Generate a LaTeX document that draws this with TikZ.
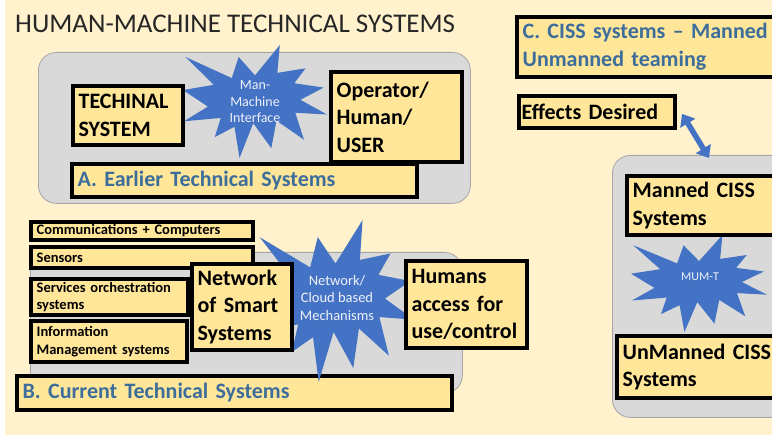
\documentclass[tikz,border=0pt]{standalone}
\usepackage{fontspec}
\setmainfont{Carlito}
\usepackage{tikz}
\usetikzlibrary{arrows.meta,positioning}
\definecolor{bgcream}{HTML}{FFF2CC}
\definecolor{boxgold}{HTML}{FFE699}
\definecolor{panelgray}{HTML}{D9D9D9}
\definecolor{panelline}{HTML}{A6A6A6}
\definecolor{burstblue}{HTML}{4472C4}
\definecolor{bursttext}{HTML}{EEF2FA}
\definecolor{headblue}{HTML}{3C6D9B}

\begin{document}
\begin{tikzpicture}[x=1pt,y=-1pt,
    panel/.style={draw=panelline, line width=0.8pt, fill=panelgray,
                  rounded corners=18pt, anchor=north west, inner sep=0pt},
    sysbox/.style={draw=black, line width=3.8pt, fill=boxgold, anchor=north west,
                   inner xsep=6pt, inner ysep=2pt, align=left},
    bigtxt/.style={font=\fontsize{22}{27.5}\selectfont\bfseries},
    smalltxt/.style={font=\fontsize{14.5}{17.5}\selectfont\bfseries},
    headtxt/.style={bigtxt, text=headblue},
    bursttxt/.style={text=bursttext, align=center, inner sep=0pt}]

  \useasboundingbox (0,0) rectangle (772,435);
  \clip (0,0) rectangle (772,435);

  % ----- background -----
  \fill[white] (0,0) rectangle (772,435);
  \fill[bgcream] (5,0) rectangle (772,435);

  % ----- macro: \burst{x0}{y0}{width}{height} (explosion shape) -----
  \newcommand{\burst}[4]{%
    \fill[burstblue, shift={(#1,#2)}, xscale=#3/216, yscale=#4/216]
      (108,58) -- (145.22,0) -- (141.55,53.25) -- (183.80,44.57) --
      (167.02,73.15) -- (210.97,81.37) -- (176.07,104.75) -- (216,132.90) --
      (168.37,129.42) -- (181.45,180.95) -- (140.20,144.57) -- (132.47,197.37) --
      (105.32,149.35) -- (84.85,216) -- (77.15,156.27) -- (47.62,176.17) --
      (56.67,139.37) -- (1.35,145.87) -- (37.22,117.75) -- (0,86.15) --
      (46.27,76.17) -- (3.70,22.95) -- (73.12,63.20) -- (83.52,22.95) -- cycle;
  }

  \node[anchor=base west, inner sep=0pt, font=\fontsize{27}{32}\selectfont,
        text=black!85] (title) at (15,33) {HUMAN-MACHINE TECHNICAL SYSTEMS};

  % ----- A: earlier systems -----
  \node[panel, minimum width=432pt, minimum height=151pt] (panelA) at (38,52) {};
  \burst{183}{45}{144}{113}
  \node[bursttxt, font=\fontsize{14}{16.5}\selectfont] (mmi) at (255,102)
    {Man-\\Machine\\Interface};
  \node[sysbox, bigtxt, text width=98.5pt, minimum height=59.5pt] (techsys)
    at (70.75,83.75) {TECHINAL\\SYSTEM};
  \node[sysbox, bigtxt, text width=119.5pt, minimum height=90.5pt] (operator)
    at (328.75,69.75) {Operator/\\Human/\\USER};
  \node[sysbox, headtxt, text width=333.5pt, minimum height=33.5pt] (earlier)
    at (69.75,161.75) {A. Earlier Technical Systems};

  % ----- B: current systems -----
  \node[panel, minimum width=432pt, minimum height=141pt] (panelB) at (30,252) {};
  \node[sysbox, headtxt, text width=423.5pt, minimum height=34.5pt] (current)
    at (14.75,373.75) {B. Current Technical Systems};
  \burst{257}{220}{157}{162}
  \node[bursttxt, font=\fontsize{14.5}{17.5}\selectfont] (ncm) at (337,298)
    {Network/\\Cloud based\\Mechanisms};
  \node[sysbox, smalltxt, text width=210.5pt, minimum height=18.5pt] (comms)
    at (28.75,219.75) {Communications + Computers};
  \node[sysbox, smalltxt, text width=210.5pt, minimum height=21.5pt] (sensors)
    at (28.75,244.75) {Sensors};
  \node[sysbox, smalltxt, text width=145.5pt, minimum height=36.5pt] (services)
    at (28.75,276.75) {Services orchestration\\systems};
  \node[sysbox, smalltxt, text width=144.5pt, minimum height=41.5pt] (infomgmt)
    at (28.75,318.75) {Information\\Management systems};
  \node[sysbox, bigtxt, text width=88.5pt, minimum height=86.5pt] (netsmart)
    at (189.75,261.75) {Network\\of Smart\\Systems};
  \node[sysbox, bigtxt, text width=109.5pt, minimum height=87.5pt] (humans)
    at (403.75,258.75) {Humans\\access for\\use/control};

  % ----- C: manned / unmanned teaming -----
  \node[panel, minimum width=190pt, minimum height=262pt] (panelC) at (612,155) {};
  \burst{631}{235}{136}{97}
  \node[bursttxt, font=\fontsize{12}{14}\selectfont] (mumt) at (700,277) {MUM-T};
  \node[sysbox, bigtxt, text width=151.5pt, minimum height=59.5pt] (manned)
    at (624.75,173.75) {Manned CISS\\Systems};
  \node[sysbox, bigtxt, text width=161.5pt, minimum height=62.5pt] (unmanned)
    at (614.75,333.75) {UnManned CISS\\Systems};
  \node[sysbox, headtxt, text width=261.5pt, minimum height=60.5pt] (ciss)
    at (514.75,14.75) {C. CISS systems – Manned\\Unmanned teaming};
  \node[sysbox, bigtxt, inner xsep=3pt, text width=150.5pt, minimum height=32.5pt]
    (effects) at (516.75,93.75) {Effects Desired};

  \draw[burstblue, line width=5.5pt,
        {Triangle[length=11pt,width=17pt]}-{Triangle[length=11pt,width=17pt]}]
    ([shift={(5,2)}]effects.east) -- ([shift={(97,3)}]panelC.north west);

\end{tikzpicture}
\end{document}
